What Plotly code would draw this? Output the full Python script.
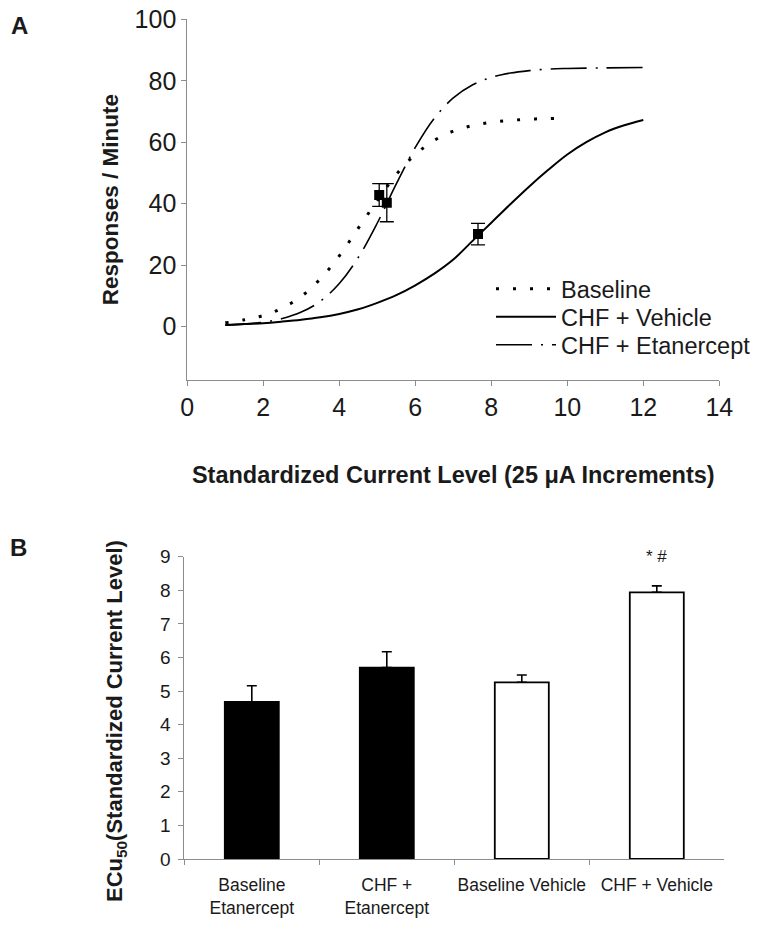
import plotly.graph_objects as go

# ---------------- Panel A data ----------------
baseline_x = [1.0, 1.5, 2.0, 2.5, 3.0, 3.5, 4.0, 4.5, 5.0, 5.5, 6.0, 6.5, 7.0, 7.5, 8.0, 8.5, 9.0, 9.5, 9.8]
baseline_y = [1.2, 2.2, 3.6, 6.0, 9.8, 15.5, 23.0, 32.0, 41.0, 49.5, 56.0, 60.6, 63.6, 65.4, 66.5, 67.1, 67.5, 67.7, 67.8]

vehicle_x = [1.0, 1.5, 2.0, 2.5, 3.0, 3.5, 4.0, 4.5, 5.0, 5.5, 6.0, 6.5, 7.0, 7.5, 8.0, 8.5, 9.0, 9.5, 10.0, 10.5, 11.0, 11.5, 12.0]
vehicle_y = [0.5, 0.8, 1.1, 1.6, 2.2, 3.0, 4.1, 5.6, 7.7, 10.2, 13.4, 17.2, 21.8, 27.8, 33.8, 39.8, 45.6, 51.0, 56.0, 60.0, 63.2, 65.5, 67.2]

etan_x = [1.0, 1.5, 2.0, 2.5, 3.0, 3.5, 4.0, 4.5, 5.0, 5.5, 6.0, 6.5, 7.0, 7.5, 8.0, 8.5, 9.0, 9.5, 10.0, 11.0, 12.0]
etan_y = [0.45, 0.8, 1.4, 2.6, 4.7, 8.2, 14.0, 22.5, 33.7, 46.4, 58.3, 67.8, 74.4, 78.6, 81.1, 82.5, 83.3, 83.8, 84.0, 84.2, 84.3]

point_x = [5.05, 5.25, 7.65]
point_y = [42.8, 40.3, 30.1]
point_err = [3.7, 6.2, 3.5]

xa_ticks = [0, 2, 4, 6, 8, 10, 12, 14]
ya_ticks = [0, 20, 40, 60, 80, 100]

# ---------------- Panel B data ----------------
groups = ["Baseline<br>Etanercept", "CHF +<br>Etanercept", "Baseline Vehicle", "CHF + Vehicle"]
ec50 = [4.68, 5.70, 5.26, 7.94]
ec50_err = [0.48, 0.47, 0.22, 0.19]
bar_colors = ["black", "black", "white", "white"]
yb_ticks = [0, 1, 2, 3, 4, 5, 6, 7, 8, 9]

FONT = "Arial, Liberation Sans, sans-serif"
AX = "#8c8c8c"
TXT = "#1a1a1a"

# page is shown with an 8px body margin; figure occupies page pixels 8..(8+W)
OFF = 8
W, H = 759 - OFF, 927 - OFF

def px_x(p):
    return (p - OFF) / W

def px_y(p):
    return 1 - (p - OFF) / H

fig = go.Figure()

fig.add_trace(go.Scatter(
    x=baseline_x, y=baseline_y, mode="lines", name="Baseline", legend="legend",
    line=dict(color="black", width=3, dash="3px,14px", shape="spline"),
    xaxis="x", yaxis="y"))
fig.add_trace(go.Scatter(
    x=vehicle_x, y=vehicle_y, mode="lines", name="CHF + Vehicle", legend="legend2",
    line=dict(color="black", width=2, shape="spline"),
    xaxis="x", yaxis="y"))
fig.add_trace(go.Scatter(
    x=etan_x, y=etan_y, mode="lines", name="CHF + Etanercept", legend="legend3",
    line=dict(color="black", width=1.6, dash="36px,9px,2px,9px", shape="spline"),
    xaxis="x", yaxis="y"))
fig.add_trace(go.Scatter(
    x=point_x, y=point_y, mode="markers", showlegend=False,
    marker=dict(symbol="square", size=10, color="black"),
    error_y=dict(type="data", array=point_err, visible=True, color="black", thickness=1.3, width=7),
    xaxis="x", yaxis="y"))

fig.add_trace(go.Bar(
    x=groups, y=ec50, width=0.4, showlegend=False,
    marker=dict(color=bar_colors, line=dict(color="black", width=1.8)),
    error_y=dict(type="data", array=ec50_err, arrayminus=[0, 0, 0, 0], symmetric=False,
                 visible=True, color="black", thickness=1.6, width=5),
    xaxis="x2", yaxis="y2"))

def leg(yc):
    return dict(x=px_x(491), y=px_y(yc), xanchor="left", yanchor="middle",
                font=dict(size=23.5, family=FONT, color=TXT),
                bgcolor="rgba(0,0,0,0)", itemwidth=60)

fig.update_layout(
    width=W, height=H,
    margin=dict(l=0, r=0, t=0, b=0, autoexpand=False),
    paper_bgcolor="white", plot_bgcolor="white",
    font=dict(family=FONT, color=TXT),
    showlegend=True,
    legend=leg(289), legend2=leg(317), legend3=leg(345),
    xaxis=dict(domain=[px_x(187.3), px_x(719.3)], range=[0, 14], tickvals=xa_ticks,
               showline=True, linecolor=AX, linewidth=1, ticks="outside", ticklen=5,
               tickcolor=AX, showgrid=False, zeroline=False, anchor="y", automargin=False,
               tickfont=dict(size=25), ticklabelstandoff=0, tickangle=0,
               ticklabeloverflow="allow",
               title=dict(text="<b>Standardized Current Level (25 \u03bcA Increments)</b>",
                          font=dict(size=23.5), standoff=46)),
    yaxis=dict(domain=[px_y(380), px_y(19.3)], range=[-17.4, 100], tickvals=ya_ticks,
               showline=True, linecolor=AX, linewidth=1, ticks="outside", ticklen=5,
               tickcolor=AX, showgrid=False, zeroline=False, anchor="x", automargin=False,
               tickfont=dict(size=25), ticklabeloverflow="allow",
               title=dict(text="<b>Responses / Minute</b>", font=dict(size=22.5), standoff=9)),
    xaxis2=dict(domain=[px_x(184.3), px_x(724.3)], range=[-0.5, 3.5], type="category",
                showline=True, linecolor=AX, linewidth=1, ticks="outside", ticklen=5,
                tickson="boundaries", tickcolor=AX, showgrid=False, zeroline=False, anchor="y2",
                automargin=False, tickangle=0, ticklabeloverflow="allow",
                tickfont=dict(size=17.5), ticklabelstandoff=10),
    yaxis2=dict(domain=[px_y(859), px_y(556.7)], range=[0, 9], tickvals=yb_ticks,
                showline=True, linecolor=AX, linewidth=1, ticks="outside", ticklen=5,
                tickcolor=AX, showgrid=False, zeroline=False, anchor="x2", automargin=False,
                tickfont=dict(size=19), ticklabelstandoff=4, ticklabeloverflow="allow"),
    annotations=[
        dict(text="<b>A</b>", x=px_x(19), y=px_y(26), xref="paper", yref="paper",
             xanchor="center", yanchor="middle",
             showarrow=False, font=dict(size=24, color=TXT)),
        dict(text="<b>B</b>", x=px_x(18), y=px_y(547), xref="paper", yref="paper",
             xanchor="center", yanchor="middle",
             showarrow=False, font=dict(size=24, color=TXT)),
        dict(text="<b>ECu<sub>50</sub>(Standardized Current Level)</b>",
             x=px_x(116), y=px_y(721), xref="paper", yref="paper", textangle=-90,
             xanchor="center", yanchor="middle",
             showarrow=False, font=dict(size=22, color=TXT)),
        dict(text="* #", x=groups[3], y=9.0, xref="x2", yref="y2",
             showarrow=False, font=dict(size=17, color=TXT)),
    ],
)

fig.write_html("out.html")
